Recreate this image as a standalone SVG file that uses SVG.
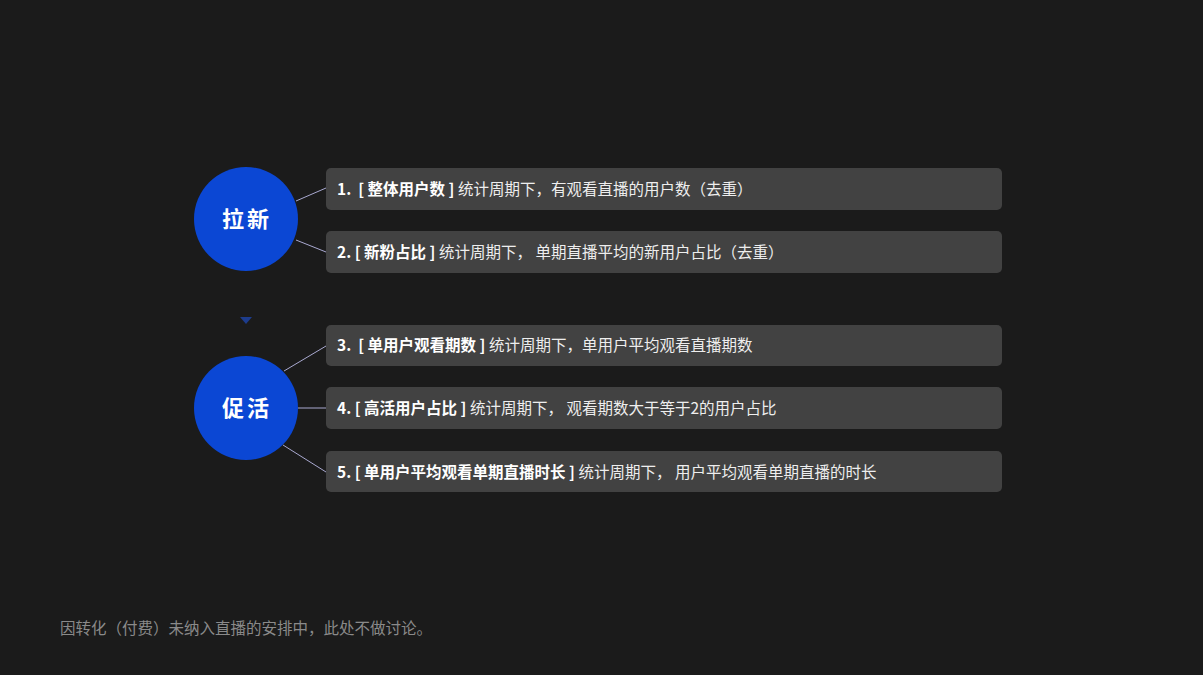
<svg xmlns="http://www.w3.org/2000/svg" width="1203" height="675" viewBox="0 0 1203 675">
<style>
.box{fill:#424242}
.t{font-family:"Noto Sans CJK SC","Noto Sans",sans-serif;font-size:15.5px;fill:#eeeeee}
.b{font-weight:bold;fill:#ffffff}
.circ{fill:#0b47d4}
.ct{font-family:"Noto Sans CJK SC",sans-serif;font-size:22px;font-weight:bold;fill:#ffffff;letter-spacing:3px}
.ln{stroke:#a9a9d0;stroke-width:1;fill:none}
.note{font-family:"Noto Sans CJK SC",sans-serif;font-size:15.5px;fill:#8a8a8a}
</style>
<rect width="1203" height="675" fill="#1b1b1b"/>
<g id="connectors">
<line class="ln" x1="296" y1="201" x2="326" y2="188"/>
<line class="ln" x1="296" y1="240" x2="326" y2="252"/>
<line class="ln" x1="284" y1="371" x2="326" y2="346"/>
<line class="ln" x1="298" y1="408" x2="326" y2="408"/>
<line class="ln" x1="283" y1="445" x2="326" y2="472"/>
<polygon points="240,317 252,317 246,324" fill="#1d3c8c"/>
</g>
<g id="node-laxin">
<circle class="circ" cx="246" cy="219" r="52"/>
<text class="ct" x="247" y="227" text-anchor="middle">拉新</text>
</g>
<g id="node-cuhuo">
<circle class="circ" cx="246" cy="408" r="52"/>
<text class="ct" x="247" y="416" text-anchor="middle">促活</text>
</g>
<g id="item1">
<rect class="box" x="326" y="168" width="676" height="42" rx="5"/>
<text class="t" x="337" y="195" xml:space="preserve"><tspan class="b">1.  [ 整体用户数 ]</tspan> 统计周期下，有观看直播的用户数（去重）</text>
</g>
<g id="item2">
<rect class="box" x="326" y="231" width="676" height="42" rx="5"/>
<text class="t" x="337" y="258" xml:space="preserve"><tspan class="b">2. [ 新粉占比 ]</tspan> 统计周期下， 单期直播平均的新用户占比（去重）</text>
</g>
<g id="item3">
<rect class="box" x="326" y="325" width="676" height="41" rx="5"/>
<text class="t" x="337" y="351" xml:space="preserve"><tspan class="b">3.  [ 单用户观看期数 ]</tspan> 统计周期下，单用户平均观看直播期数</text>
</g>
<g id="item4">
<rect class="box" x="326" y="387" width="676" height="42" rx="5"/>
<text class="t" x="337" y="414" xml:space="preserve"><tspan class="b">4. [ 高活用户占比 ]</tspan> 统计周期下， 观看期数大于等于2的用户占比</text>
</g>
<g id="item5">
<rect class="box" x="326" y="451" width="676" height="41" rx="5"/>
<text class="t" x="337" y="478" xml:space="preserve"><tspan class="b">5. [ 单用户平均观看单期直播时长 ]</tspan> 统计周期下， 用户平均观看单期直播的时长</text>
</g>
<text class="note" x="60" y="634">因转化（付费）未纳入直播的安排中，此处不做讨论。</text>
</svg>
